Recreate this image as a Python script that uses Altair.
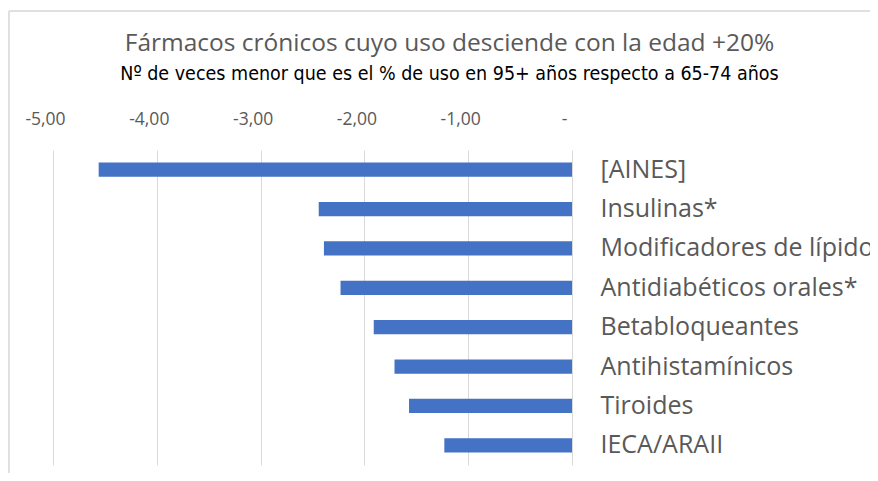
import altair as alt
import pandas as pd

categories = ["[AINES]", "Insulinas*", "Modificadores de lípidos", "Antidiabéticos orales*",
              "Betabloqueantes", "Antihistamínicos", "Tiroides", "IECA/ARAII"]
values = [-4.56, -2.44, -2.39, -2.23, -1.91, -1.71, -1.57, -1.23]
ticks = [-5, -4, -3, -2, -1, 0]

df = pd.DataFrame({"cat": categories, "val": values})

FONT = "Open Sans"

bars = alt.Chart(df).mark_bar(color="#4472C4").encode(
    x=alt.X("val:Q",
            scale=alt.Scale(domain=[-5, 0], nice=False, zero=False),
            axis=alt.Axis(orient="top", values=ticks, title=None, domain=False, ticks=False,
                          labelPadding=22, labelFontSize=17.5, labelColor="#595959", labelFont=FONT,
                          labelOffset=-8, labelFlush=False,
                          grid=True, gridColor="#D9D9D9", gridWidth=1,
                          labelExpr="datum.value == 0 ? '-' : '-' + replace(format(abs(datum.value), '.2f'), '.', ',')")),
    y=alt.Y("cat:N", sort=categories,
            scale=alt.Scale(paddingInner=0.64, paddingOuter=0.32),
            axis=alt.Axis(orient="right", title=None, domain=False, ticks=False, grid=False,
                          labelPadding=28, labelFontSize=25, labelColor="#595959", labelFont=FONT,
                          labelAlign="left", labelLimit=500)),
)

border_top = alt.Chart().mark_rule(color="#E0E0E0", strokeWidth=2, clip=False).encode(
    x=alt.value(-44), x2=alt.value(830), y=alt.value(-139))
border_left = alt.Chart().mark_rule(color="#E0E0E0", strokeWidth=2, clip=False).encode(
    x=alt.value(-44), y=alt.value(-139), y2=alt.value(340))

chart = alt.layer(bars, border_top, border_left).properties(
    width=519, height=315,
    title=alt.TitleParams(
        text="Fármacos crónicos cuyo uso desciende con la edad +20%",
        subtitle="Nº de veces menor que es el % de uso en 95+ años respecto a 65-74 años",
        anchor="middle", frame="group", dx=137, offset=-74,
        font=FONT, fontSize=24.5, fontWeight="normal", color="#595959",
        subtitleFont="DejaVu Sans Condensed, " + FONT, subtitleFontSize=19.5, subtitleColor="#000000",
        subtitlePadding=8),
    autosize=alt.AutoSizeParams(type="none"),
    padding={"left": 45, "top": 142, "right": 298, "bottom": 8},
).configure_view(stroke=None)

chart.save("out.html", embed_options={"renderer": "svg", "actions": False})
